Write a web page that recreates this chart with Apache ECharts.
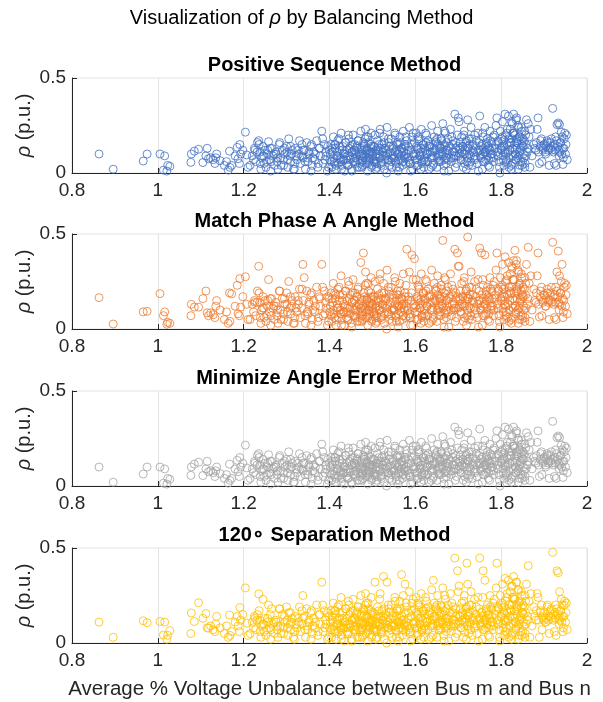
<!DOCTYPE html>
<html>
<head>
<meta charset="utf-8">
<script src="https://cdn.jsdelivr.net/npm/echarts@6/dist/echarts.min.js"></script>
<style>
html,body{margin:0;padding:0;background:#fff;}
#main{width:603px;height:702px;}
</style>
</head>
<body>
<div id="main"></div>
<script>
// 数据
var xTicks = [0.8, 1, 1.2, 1.4, 1.6, 1.8, 2];
var yTicks = [0, 0.5];
var panelTitles = ['Positive Sequence Method', 'Match Phase A Angle Method', 'Minimize Angle Error Method', '120\u2218 Separation Method'];

var unbalance = [
	0.863,0.896,0.966,0.975,1.005,1.016,1.013,1.023,1.028,1.021,1.077,1.078,1.085,1.095,1.105,1.112,1.115,1.118,1.123,1.129,
	1.137,1.135,1.133,1.155,1.160,1.167,1.168,1.164,1.180,1.185,1.187,1.190,1.191,1.193,1.204,1.207,1.145,1.172,1.198,1.210,
	1.215,1.220,1.225,1.228,1.232,1.235,1.238,1.240,1.242,1.245,1.248,1.250,1.252,1.255,1.258,1.260,1.263,1.265,1.268,1.272,
	1.275,1.278,1.280,1.283,1.286,1.290,1.293,1.296,1.300,1.303,1.305,1.308,1.310,1.313,1.316,1.320,1.324,1.328,1.332,1.336,
	1.338,1.341,1.344,1.347,1.350,1.353,1.356,1.360,1.363,1.366,1.370,1.373,1.376,1.379,1.382,1.385,1.388,1.391,1.395,1.399,
	1.401,1.403,1.405,1.407,1.409,1.411,1.413,1.415,1.417,1.419,1.421,1.423,1.425,1.427,1.429,1.431,1.433,1.435,1.437,1.439,
	1.441,1.443,1.445,1.447,1.449,1.451,1.453,1.455,1.457,1.459,1.461,1.463,1.465,1.467,1.469,1.471,1.473,1.475,1.477,1.479,
	1.481,1.483,1.485,1.487,1.489,1.491,1.493,1.495,1.497,1.499,1.482,1.486,1.490,1.494,1.498,1.484,1.488,1.492,1.496,1.500,
	1.502,1.504,1.506,1.508,1.510,1.512,1.514,1.516,1.518,1.520,1.522,1.524,1.526,1.528,1.530,1.532,1.534,1.536,1.538,1.540,
	1.542,1.544,1.546,1.548,1.550,1.552,1.554,1.556,1.558,1.560,1.562,1.564,1.566,1.568,1.570,1.572,1.574,1.576,1.578,1.580,
	1.582,1.584,1.586,1.588,1.590,1.592,1.594,1.596,1.598,1.600,1.602,1.604,1.606,1.608,1.610,1.612,1.614,1.616,1.618,1.620,
	1.622,1.624,1.626,1.628,1.630,1.632,1.634,1.636,1.638,1.640,1.642,1.644,1.646,1.648,1.650,1.652,1.654,1.656,1.658,1.660,
	1.662,1.664,1.666,1.668,1.670,1.672,1.674,1.676,1.678,1.680,1.682,1.684,1.686,1.688,1.690,1.692,1.694,1.696,1.698,1.700,
	1.702,1.704,1.706,1.708,1.710,1.712,1.714,1.716,1.718,1.720,1.722,1.724,1.726,1.728,1.730,1.732,1.734,1.736,1.738,1.740,
	1.742,1.744,1.746,1.748,1.750,1.752,1.754,1.756,1.758,1.760,1.762,1.764,1.766,1.768,1.770,1.772,1.774,1.776,1.778,1.780,
	1.782,1.784,1.786,1.788,1.790,1.792,1.794,1.796,1.798,1.800,1.801,1.803,1.805,1.807,1.809,1.811,1.813,1.815,1.817,1.819,
	1.820,1.821,1.823,1.825,1.826,1.828,1.829,1.831,1.832,1.834,1.835,1.837,1.838,1.840,1.841,1.843,1.844,1.846,1.848,1.850,
	1.822,1.827,1.833,1.839,1.845,1.851,1.853,1.855,1.857,1.859,1.861,1.863,1.865,1.867,1.869,1.824,1.836,1.847,1.856,1.862,
	1.872,1.876,1.881,1.884,1.886,1.889,1.892,1.895,1.898,1.900,1.903,1.905,1.908,1.910,1.912,1.915,1.917,1.920,1.922,1.924,
	1.926,1.928,1.930,1.932,1.933,1.935,1.936,1.938,1.940,1.941,1.942,1.944,1.946,1.948,1.950,1.952,1.954,1.927,1.937,1.945,
	1.223,1.231,1.239,1.247,1.256,1.264,1.271,1.279,1.287,1.295,1.302,1.311,1.319,1.327,1.335,1.343,1.352,1.361,1.374,1.392,
	1.402,1.404,1.406,1.410,1.412,1.416,1.418,1.420,1.424,1.426,1.430,1.432,1.436,1.438,1.440,1.442,1.446,1.448,1.452,1.454,
	1.456,1.458,1.460,1.462,1.464,1.466,1.468,1.470,1.472,1.474,1.476,1.478,1.480,1.484,1.487,1.489,1.492,1.494,1.496,1.499,
	1.501,1.503,1.505,1.507,1.509,1.511,1.513,1.515,1.517,1.519,1.521,1.523,1.525,1.527,1.529,1.531,1.535,1.539,1.543,1.547,
	1.549,1.551,1.553,1.555,1.557,1.559,1.561,1.563,1.565,1.567,1.569,1.571,1.573,1.575,1.577,1.579,1.583,1.587,1.591,1.597,
	1.601,1.603,1.605,1.607,1.609,1.611,1.613,1.615,1.617,1.619,1.621,1.623,1.625,1.627,1.629,1.631,1.635,1.639,1.643,1.647,
	1.649,1.651,1.653,1.655,1.657,1.659,1.661,1.663,1.665,1.667,1.669,1.671,1.673,1.675,1.679,1.683,1.687,1.691,1.695,1.699,
	1.701,1.703,1.705,1.707,1.709,1.711,1.713,1.715,1.717,1.719,1.721,1.723,1.725,1.727,1.729,1.733,1.737,1.741,1.745,1.749,
	1.751,1.753,1.755,1.757,1.759,1.761,1.763,1.765,1.767,1.769,1.771,1.773,1.775,1.777,1.779,1.783,1.787,1.791,1.795,1.799,
	1.802,1.804,1.806,1.808,1.810,1.812,1.814,1.816,1.818,1.827,1.830,1.833,1.836,1.839,1.842,1.845,1.849,1.852,1.854,1.858,
	1.878,1.882,1.887,1.891,1.894,1.897,1.901,1.904,1.907,1.911,1.914,1.918,1.921,1.925,1.929,1.934,1.939,1.943,1.947,1.951,
	1.318,1.357,1.398,1.428,1.452,1.478,1.508,1.533,1.563,1.589,1.613,1.641,1.667,1.693,1.719,1.747,1.773,1.797,1.824,1.848,
	1.414,1.422,1.434,1.444,1.458,1.466,1.474,1.486,1.497,1.509,1.517,1.526,1.537,1.545,1.553,1.561,1.569,1.578,1.585,1.595,
	1.606,1.615,1.624,1.633,1.641,1.651,1.659,1.668,1.677,1.685,1.694,1.703,1.713,1.722,1.731,1.739,1.757,1.766,1.781,1.793,
	1.803,1.809,1.814,1.819,1.823,1.828,1.832,1.837,1.842,1.847,1.852,1.857,1.806,1.812,1.818,1.826,1.834,1.843,1.850,1.855,
	1.412,1.427,1.443,1.461,1.476,1.491,1.507,1.521,1.538,1.556,1.572,1.588,1.604,1.621,1.637,1.655,1.672,1.689,1.724,1.758,
	1.226,1.236,1.244,1.253,1.262,1.276,1.284,1.292,1.301,1.309,1.322,1.330,1.339,1.348,1.358,1.367,1.377,1.384,1.389,1.396
];

var rhoPosSeq = [
	0.10,0.02,0.063,0.10,0.10,0.09,0.015,0.04,0.035,0.01,0.056,0.10,0.115,0.125,0.055,0.09,0.13,0.075,0.08,0.07,
	0.10,0.08,0.05,0.04,0.06,0.115,0.03,0.015,0.09,0.135,0.075,0.05,0.15,0.10,0.215,0.095,0.065,0.04,0.12,0.03,
	0.04,0.09,0.13,0.06,0.16,0.17,0.11,0.02,0.08,0.14,0.05,0.12,0.03,0.10,0.165,0.07,0.01,0.13,0.09,0.04,
	0.11,0.06,0.02,0.15,0.08,0.12,0.04,0.10,0.14,0.03,0.18,0.09,0.06,0.12,0.02,0.13,0.07,0.10,0.05,0.15,
	0.08,0.12,0.02,0.16,0.06,0.10,0.14,0.04,0.11,0.07,0.17,0.03,0.13,0.09,0.22,0.05,0.15,0.11,0.01,0.12,
	0.07,0.15,0.03,0.11,0.19,0.06,0.13,0.02,0.09,0.17,0.05,0.12,0.08,0.21,0.04,0.14,0.10,0.01,0.16,0.07,
	0.12,0.04,0.18,0.09,0.14,0.02,0.11,0.20,0.06,0.15,0.08,0.13,0.03,0.17,0.10,0.05,0.22,0.12,0.07,0.16,
	0.09,0.18,0.05,0.13,0.01,0.16,0.08,0.11,0.21,0.04,0.14,0.07,0.19,0.10,0.03,0.23,0.12,0.06,0.15,0.09,
	0.14,0.06,0.20,0.10,0.03,0.17,0.12,0.08,0.23,0.05,0.15,0.11,0.19,0.02,0.13,0.09,0.24,0.07,0.16,0.04,
	0.11,0.18,0.03,0.14,0.08,0.21,0.06,0.12,0.16,0.01,0.10,0.19,0.07,0.13,0.04,0.22,0.09,0.15,0.05,0.17,
	0.08,0.14,0.24,0.05,0.12,0.19,0.02,0.10,0.16,0.07,0.21,0.13,0.04,0.18,0.09,0.11,0.23,0.06,0.15,0.03,
	0.13,0.06,0.20,0.10,0.17,0.02,0.14,0.08,0.25,0.11,0.05,0.19,0.12,0.16,0.03,0.22,0.09,0.14,0.07,0.18,
	0.10,0.26,0.04,0.15,0.21,0.08,0.12,0.18,0.01,0.14,0.23,0.06,0.11,0.17,0.09,0.31,0.13,0.05,0.20,0.29,
	0.27,0.12,0.07,0.19,0.14,0.03,0.22,0.10,0.16,0.06,0.28,0.13,0.18,0.09,0.24,0.04,0.15,0.11,0.20,0.08,
	0.17,0.05,0.21,0.12,0.30,0.09,0.14,0.02,0.19,0.11,0.24,0.07,0.15,0.18,0.04,0.13,0.22,0.08,0.16,0.10,
	0.06,0.20,0.13,0.25,0.29,0.09,0.16,0.03,0.22,0.12,0.18,0.27,0.07,0.14,0.31,0.10,0.21,0.05,0.30,0.16,
	0.12,0.23,0.04,0.18,0.26,0.09,0.31,0.15,0.20,0.07,0.28,0.13,0.17,0.02,0.24,0.11,0.19,0.06,0.22,0.14,
	0.16,0.21,0.10,0.25,0.13,0.18,0.08,0.22,0.15,0.28,0.11,0.26,0.19,0.03,0.23,0.27,0.29,0.17,0.05,0.13,
	0.09,0.15,0.12,0.23,0.29,0.05,0.17,0.06,0.13,0.15,0.11,0.14,0.16,0.12,0.04,0.13,0.18,0.34,0.11,0.05,
	0.12,0.04,0.255,0.14,0.263,0.09,0.255,0.16,0.215,0.10,0.19,0.045,0.13,0.21,0.10,0.20,0.07,0.19,0.11,0.08,
	0.07,0.11,0.05,0.09,0.12,0.06,0.10,0.08,0.04,0.13,0.07,0.10,0.05,0.12,0.09,0.06,0.11,0.08,0.05,0.09,
	0.10,0.06,0.13,0.08,0.15,0.04,0.11,0.09,0.14,0.06,0.12,0.07,0.10,0.16,0.05,0.09,0.13,0.07,0.11,0.15,
	0.08,0.12,0.05,0.10,0.14,0.07,0.11,0.03,0.09,0.13,0.06,0.10,0.15,0.08,0.12,0.05,0.10,0.07,0.13,0.11,
	0.11,0.07,0.14,0.09,0.12,0.05,0.10,0.15,0.08,0.13,0.06,0.11,0.09,0.16,0.07,0.12,0.10,0.14,0.06,0.09,
	0.13,0.08,0.11,0.05,0.15,0.10,0.07,0.12,0.16,0.09,0.13,0.06,0.11,0.08,0.14,0.10,0.12,0.07,0.15,0.09,
	0.10,0.14,0.07,0.12,0.17,0.09,0.13,0.05,0.11,0.15,0.08,0.12,0.16,0.10,0.06,0.14,0.11,0.08,0.13,0.17,
	0.12,0.08,0.15,0.10,0.13,0.06,0.17,0.11,0.09,0.14,0.07,0.12,0.16,0.10,0.13,0.08,0.15,0.11,0.09,0.14,
	0.09,0.13,0.16,0.07,0.11,0.14,0.10,0.05,0.12,0.17,0.08,0.13,0.10,0.15,0.06,0.12,0.09,0.14,0.11,0.16,
	0.12,0.08,0.15,0.10,0.13,0.06,0.11,0.16,0.09,0.14,0.07,0.12,0.17,0.10,0.13,0.08,0.15,0.11,0.06,0.13,
	0.14,0.09,0.17,0.12,0.20,0.07,0.15,0.11,0.18,0.13,0.21,0.10,0.16,0.08,0.19,0.12,0.15,0.10,0.17,0.09,
	0.13,0.16,0.11,0.14,0.18,0.12,0.15,0.10,0.17,0.13,0.16,0.12,0.14,0.15,0.17,0.12,0.16,0.13,0.18,0.15,
	0.02,0.01,0.03,0.02,0.01,0.04,0.02,0.00,0.03,0.01,0.02,0.04,0.01,0.03,0.02,0.01,0.03,0.00,0.02,0.04,
	0.15,0.18,0.07,0.20,0.12,0.17,0.09,0.19,0.14,0.06,0.21,0.13,0.18,0.08,0.20,0.15,0.11,0.19,0.06,0.21,
	0.19,0.06,0.21,0.15,0.09,0.18,0.13,0.22,0.07,0.19,0.16,0.10,0.20,0.14,0.18,0.07,0.21,0.12,0.19,0.17,
	0.19,0.11,0.23,0.08,0.16,0.21,0.12,0.18,0.09,0.24,0.14,0.20,0.04,0.06,0.03,0.05,0.07,0.04,0.06,0.03,
	0.05,0.07,0.04,0.06,0.03,0.08,0.05,0.04,0.07,0.03,0.06,0.05,0.04,0.07,0.03,0.06,0.05,0.08,0.04,0.06,
	0.12,0.15,0.09,0.06,0.13,0.10,0.16,0.07,0.11,0.14,0.09,0.17,0.12,0.08,0.15,0.10,0.13,0.18,0.07,0.14
];

var rhoPhaseA = [
	0.165,0.026,0.09,0.093,0.186,0.09,0.07,0.035,0.03,0.025,0.07,0.13,0.115,0.115,0.16,0.20,0.085,0.07,0.085,0.075,
	0.15,0.12,0.06,0.05,0.09,0.19,0.04,0.03,0.12,0.23,0.08,0.07,0.265,0.115,0.275,0.13,0.10,0.185,0.17,0.05,
	0.05,0.13,0.15,0.07,0.20,0.33,0.14,0.03,0.10,0.17,0.06,0.15,0.04,0.12,0.26,0.09,0.02,0.16,0.11,0.05,
	0.14,0.07,0.03,0.20,0.10,0.16,0.05,0.13,0.19,0.04,0.25,0.11,0.08,0.15,0.03,0.17,0.09,0.13,0.06,0.21,
	0.34,0.27,0.03,0.20,0.08,0.13,0.18,0.05,0.15,0.09,0.22,0.04,0.17,0.12,0.34,0.07,0.20,0.14,0.02,0.16,
	0.09,0.19,0.04,0.14,0.24,0.08,0.16,0.02,0.11,0.21,0.06,0.15,0.10,0.28,0.05,0.18,0.13,0.02,0.20,0.09,
	0.15,0.05,0.23,0.11,0.18,0.03,0.14,0.26,0.07,0.19,0.10,0.17,0.04,0.22,0.13,0.06,0.35,0.15,0.09,0.40,
	0.11,0.23,0.06,0.16,0.02,0.20,0.10,0.14,0.27,0.05,0.17,0.09,0.24,0.13,0.04,0.30,0.15,0.07,0.19,0.11,
	0.17,0.08,0.25,0.12,0.04,0.21,0.15,0.10,0.29,0.06,0.19,0.13,0.24,0.03,0.16,0.11,0.31,0.09,0.20,0.05,
	0.14,0.22,0.04,0.18,0.10,0.27,0.07,0.15,0.20,0.01,0.12,0.24,0.09,0.16,0.05,0.29,0.11,0.19,0.06,0.42,
	0.10,0.17,0.30,0.06,0.15,0.39,0.02,0.13,0.37,0.09,0.26,0.16,0.05,0.22,0.11,0.14,0.29,0.07,0.19,0.04,
	0.16,0.07,0.25,0.12,0.21,0.03,0.17,0.10,0.31,0.14,0.06,0.24,0.15,0.20,0.04,0.28,0.11,0.17,0.09,0.23,
	0.12,0.466,0.05,0.19,0.26,0.10,0.15,0.22,0.01,0.17,0.29,0.07,0.13,0.21,0.11,0.42,0.16,0.06,0.40,0.33,
	0.33,0.15,0.09,0.24,0.17,0.04,0.27,0.12,0.20,0.07,0.484,0.16,0.22,0.11,0.30,0.05,0.18,0.14,0.25,0.10,
	0.21,0.06,0.26,0.15,0.426,0.11,0.40,0.02,0.23,0.13,0.39,0.08,0.18,0.22,0.05,0.16,0.27,0.10,0.20,0.12,
	0.07,0.25,0.16,0.31,0.40,0.11,0.20,0.04,0.27,0.15,0.22,0.34,0.09,0.17,0.38,0.12,0.26,0.06,0.35,0.20,
	0.15,0.29,0.05,0.22,0.32,0.11,0.36,0.19,0.414,0.09,0.34,0.16,0.21,0.03,0.30,0.14,0.24,0.07,0.27,0.17,
	0.19,0.26,0.12,0.31,0.16,0.22,0.10,0.27,0.18,0.34,0.13,0.43,0.24,0.04,0.28,0.33,0.36,0.20,0.06,0.16,
	0.10,0.21,0.14,0.28,0.40,0.063,0.20,0.07,0.15,0.18,0.12,0.16,0.19,0.14,0.05,0.15,0.22,0.456,0.13,0.06,
	0.14,0.05,0.30,0.17,0.41,0.10,0.28,0.19,0.25,0.12,0.34,0.06,0.15,0.24,0.12,0.23,0.08,0.22,0.13,0.09,
	0.09,0.14,0.06,0.11,0.15,0.07,0.12,0.10,0.05,0.16,0.09,0.12,0.06,0.15,0.11,0.07,0.14,0.10,0.06,0.11,
	0.12,0.07,0.16,0.10,0.19,0.05,0.13,0.11,0.18,0.08,0.15,0.09,0.12,0.20,0.06,0.11,0.16,0.08,0.14,0.19,
	0.10,0.15,0.06,0.12,0.17,0.09,0.13,0.04,0.11,0.16,0.07,0.12,0.19,0.10,0.15,0.06,0.12,0.08,0.16,0.13,
	0.13,0.09,0.17,0.11,0.15,0.06,0.12,0.18,0.10,0.16,0.07,0.13,0.11,0.19,0.08,0.15,0.12,0.17,0.07,0.11,
	0.16,0.10,0.13,0.06,0.18,0.12,0.08,0.15,0.20,0.11,0.16,0.07,0.13,0.10,0.17,0.12,0.15,0.08,0.19,0.11,
	0.12,0.17,0.09,0.15,0.21,0.11,0.16,0.06,0.13,0.19,0.10,0.15,0.20,0.12,0.07,0.17,0.14,0.10,0.16,0.21,
	0.15,0.10,0.18,0.12,0.16,0.07,0.21,0.13,0.11,0.17,0.08,0.15,0.20,0.12,0.16,0.10,0.18,0.13,0.11,0.17,
	0.11,0.16,0.20,0.08,0.13,0.17,0.12,0.06,0.15,0.21,0.10,0.16,0.12,0.18,0.07,0.15,0.11,0.17,0.13,0.20,
	0.15,0.10,0.18,0.12,0.16,0.07,0.13,0.20,0.11,0.17,0.08,0.15,0.21,0.12,0.16,0.10,0.18,0.13,0.07,0.16,
	0.17,0.11,0.21,0.15,0.25,0.09,0.18,0.13,0.22,0.16,0.26,0.12,0.20,0.10,0.23,0.15,0.18,0.12,0.21,0.11,
	0.15,0.19,0.13,0.17,0.22,0.14,0.18,0.12,0.21,0.15,0.19,0.14,0.17,0.18,0.20,0.14,0.19,0.16,0.22,0.18,
	0.03,0.02,0.04,0.02,0.01,0.05,0.03,0.00,0.04,0.02,0.03,0.05,0.01,0.04,0.02,0.01,0.04,0.01,0.03,0.05,
	0.18,0.22,0.09,0.25,0.15,0.21,0.11,0.24,0.17,0.07,0.26,0.16,0.22,0.10,0.25,0.18,0.13,0.23,0.07,0.26,
	0.23,0.07,0.26,0.18,0.11,0.22,0.16,0.27,0.09,0.23,0.19,0.12,0.25,0.17,0.22,0.08,0.26,0.15,0.23,0.21,
	0.23,0.13,0.28,0.10,0.19,0.26,0.15,0.22,0.11,0.29,0.17,0.24,0.05,0.07,0.04,0.06,0.08,0.05,0.07,0.04,
	0.06,0.08,0.05,0.07,0.04,0.10,0.06,0.05,0.08,0.04,0.07,0.06,0.05,0.08,0.04,0.07,0.06,0.10,0.05,0.07,
	0.14,0.19,0.11,0.07,0.16,0.12,0.20,0.08,0.13,0.17,0.11,0.21,0.15,0.09,0.19,0.12,0.16,0.22,0.08,0.17
];

// 最小角误差法与正序法的结果在原图中一致
var rhoMinAngle = rhoPosSeq.slice();

var rhoSep120 = [
	0.11,0.03,0.117,0.107,0.113,0.11,0.042,0.04,0.065,0.02,0.05,0.158,0.113,0.212,0.13,0.155,0.08,0.078,0.09,0.07,
	0.14,0.10,0.06,0.05,0.09,0.147,0.04,0.03,0.11,0.14,0.09,0.06,0.187,0.12,0.29,0.105,0.08,0.06,0.15,0.04,
	0.05,0.11,0.14,0.07,0.15,0.258,0.12,0.03,0.09,0.23,0.06,0.13,0.04,0.11,0.20,0.08,0.02,0.18,0.10,0.05,
	0.12,0.07,0.03,0.18,0.09,0.15,0.05,0.11,0.19,0.04,0.16,0.10,0.07,0.13,0.03,0.14,0.08,0.11,0.06,0.17,
	0.25,0.14,0.03,0.18,0.07,0.11,0.16,0.05,0.13,0.08,0.20,0.04,0.15,0.10,0.32,0.06,0.17,0.12,0.02,0.14,
	0.08,0.17,0.03,0.12,0.21,0.07,0.15,0.02,0.10,0.19,0.06,0.13,0.09,0.24,0.04,0.16,0.11,0.01,0.18,0.08,
	0.13,0.05,0.20,0.10,0.16,0.02,0.12,0.23,0.07,0.17,0.09,0.15,0.03,0.19,0.11,0.06,0.25,0.14,0.08,0.18,
	0.10,0.20,0.05,0.14,0.01,0.18,0.09,0.12,0.24,0.04,0.15,0.08,0.21,0.11,0.03,0.26,0.13,0.07,0.17,0.10,
	0.16,0.07,0.32,0.11,0.03,0.19,0.14,0.09,0.26,0.06,0.17,0.12,0.35,0.02,0.15,0.10,0.32,0.08,0.18,0.05,
	0.13,0.20,0.03,0.16,0.09,0.24,0.07,0.14,0.18,0.01,0.11,0.22,0.08,0.36,0.04,0.25,0.10,0.31,0.06,0.19,
	0.09,0.16,0.27,0.05,0.14,0.21,0.02,0.11,0.18,0.08,0.24,0.15,0.04,0.20,0.10,0.13,0.26,0.07,0.17,0.03,
	0.15,0.07,0.22,0.11,0.19,0.02,0.16,0.09,0.28,0.12,0.33,0.21,0.14,0.18,0.03,0.25,0.10,0.16,0.08,0.20,
	0.11,0.29,0.04,0.17,0.23,0.09,0.13,0.20,0.01,0.16,0.26,0.06,0.12,0.19,0.10,0.447,0.14,0.05,0.38,0.27,
	0.30,0.14,0.08,0.21,0.16,0.03,0.25,0.11,0.18,0.42,0.31,0.15,0.20,0.10,0.27,0.04,0.17,0.12,0.23,0.09,
	0.19,0.05,0.24,0.13,0.447,0.10,0.16,0.02,0.38,0.12,0.33,0.08,0.17,0.20,0.04,0.15,0.25,0.09,0.18,0.11,
	0.07,0.23,0.15,0.29,0.42,0.10,0.18,0.03,0.25,0.14,0.20,0.31,0.08,0.16,0.34,0.11,0.24,0.05,0.33,0.18,
	0.14,0.27,0.04,0.20,0.30,0.10,0.35,0.17,0.23,0.08,0.32,0.15,0.19,0.02,0.28,0.12,0.22,0.06,0.25,0.16,
	0.17,0.24,0.11,0.28,0.14,0.20,0.09,0.25,0.16,0.31,0.12,0.407,0.22,0.03,0.26,0.30,0.32,0.19,0.05,0.14,
	0.09,0.19,0.12,0.26,0.24,0.03,0.17,0.07,0.14,0.12,0.11,0.13,0.20,0.12,0.05,0.14,0.18,0.477,0.12,0.06,
	0.13,0.04,0.38,0.15,0.37,0.10,0.27,0.17,0.23,0.11,0.20,0.06,0.14,0.22,0.11,0.21,0.07,0.20,0.12,0.08,
	0.08,0.12,0.06,0.10,0.13,0.07,0.11,0.09,0.05,0.14,0.08,0.11,0.06,0.13,0.10,0.07,0.12,0.09,0.06,0.10,
	0.11,0.07,0.14,0.09,0.17,0.05,0.12,0.10,0.16,0.07,0.13,0.08,0.11,0.18,0.06,0.10,0.15,0.08,0.12,0.17,
	0.09,0.13,0.06,0.11,0.16,0.08,0.12,0.03,0.10,0.15,0.07,0.11,0.17,0.09,0.14,0.06,0.11,0.08,0.15,0.12,
	0.12,0.08,0.15,0.10,0.13,0.06,0.11,0.17,0.09,0.14,0.07,0.12,0.10,0.18,0.08,0.13,0.11,0.16,0.07,0.10,
	0.14,0.09,0.12,0.06,0.17,0.11,0.08,0.13,0.18,0.10,0.14,0.07,0.12,0.09,0.16,0.11,0.13,0.08,0.17,0.10,
	0.11,0.16,0.08,0.13,0.19,0.10,0.14,0.06,0.12,0.17,0.09,0.13,0.18,0.11,0.07,0.15,0.12,0.09,0.14,0.19,
	0.13,0.09,0.17,0.11,0.14,0.07,0.19,0.12,0.10,0.15,0.08,0.13,0.18,0.11,0.14,0.09,0.16,0.12,0.10,0.15,
	0.10,0.14,0.18,0.08,0.12,0.15,0.11,0.06,0.13,0.19,0.09,0.14,0.11,0.16,0.07,0.13,0.10,0.15,0.12,0.18,
	0.13,0.09,0.16,0.11,0.14,0.07,0.12,0.18,0.10,0.15,0.08,0.13,0.19,0.11,0.14,0.09,0.17,0.12,0.07,0.14,
	0.15,0.10,0.19,0.13,0.22,0.08,0.16,0.12,0.20,0.14,0.23,0.11,0.18,0.09,0.21,0.13,0.16,0.11,0.19,0.10,
	0.14,0.17,0.12,0.16,0.20,0.13,0.16,0.11,0.19,0.14,0.17,0.13,0.15,0.16,0.18,0.13,0.17,0.14,0.20,0.16,
	0.02,0.02,0.03,0.02,0.01,0.04,0.02,0.00,0.03,0.01,0.02,0.04,0.01,0.03,0.02,0.01,0.03,0.01,0.02,0.04,
	0.17,0.20,0.08,0.22,0.13,0.19,0.10,0.21,0.16,0.07,0.23,0.14,0.20,0.09,0.22,0.17,0.12,0.21,0.07,0.23,
	0.21,0.07,0.24,0.17,0.10,0.20,0.15,0.25,0.08,0.21,0.18,0.11,0.22,0.16,0.20,0.08,0.24,0.13,0.21,0.19,
	0.21,0.12,0.26,0.09,0.17,0.24,0.13,0.20,0.10,0.27,0.15,0.22,0.04,0.06,0.03,0.05,0.07,0.04,0.06,0.03,
	0.06,0.08,0.05,0.07,0.03,0.09,0.06,0.05,0.08,0.03,0.07,0.06,0.05,0.08,0.03,0.07,0.06,0.09,0.05,0.07,
	0.13,0.17,0.10,0.07,0.15,0.11,0.18,0.08,0.12,0.16,0.10,0.19,0.13,0.09,0.17,0.11,0.15,0.20,0.08,0.16
];

var colors = ['#4472C4', '#ED7D31', '#A5A5A5', '#FFC000'];
var rhoList = [rhoPosSeq, rhoPhaseA, rhoMinAngle, rhoSep120];

var font = '"Liberation Sans", Arial, Helvetica, sans-serif';
var textColor = '#262626';
var gridTops = [78, 234, 391, 548];
var plotLeft = 72, plotWidth = 515, plotHeight = 95;

var grids = [], xAxes = [], yAxes = [], series = [];
var titles = [{
	text: 'Visualization of {i|\u03c1} by Balancing Method',
	left: 'center',
	top: 3,
	textStyle: {
		fontFamily: font, fontSize: 20, fontWeight: 'normal', color: '#000',
		rich: { i: { fontFamily: font, fontSize: 20, fontStyle: 'italic', color: '#000' } }
	}
}];

for (var k = 0; k < 4; k++) {
	grids.push({
		left: plotLeft, top: gridTops[k], width: plotWidth, height: plotHeight,
		show: true, borderColor: '#e3e3e3', borderWidth: 1, backgroundColor: '#fff'
	});
	titles.push({
		text: panelTitles[k],
		left: plotLeft + plotWidth / 2,
		textAlign: 'center',
		top: gridTops[k] - 28,
		textStyle: { fontFamily: font, fontSize: 20, fontWeight: 'bold', color: '#000' }
	});
	var xa = {
		type: 'value', gridIndex: k,
		min: xTicks[0], max: xTicks[xTicks.length - 1], interval: 0.2,
		axisLine: { show: true, lineStyle: { color: textColor, width: 1 } },
		axisTick: { show: true, inside: true, length: 5, lineStyle: { color: textColor } },
		axisLabel: { fontFamily: font, fontSize: 19, color: textColor, margin: 8 },
		splitLine: { show: true, lineStyle: { color: '#e3e3e3', width: 1 } }
	};
	if (k === 3) {
		xa.name = 'Average % Voltage Unbalance between Bus m and Bus n';
		xa.nameLocation = 'middle';
		xa.nameGap = 36;
		xa.nameMoveOverlap = false;
		xa.nameTextStyle = { fontFamily: font, fontSize: 20.5, color: textColor };
	}
	xAxes.push(xa);
	yAxes.push({
		type: 'value', gridIndex: k,
		min: yTicks[0], max: yTicks[1], interval: 0.5,
		name: '{i|\u03c1} (p.u.)',
		nameLocation: 'middle',
		nameGap: 38,
		nameRotate: 90,
		nameMoveOverlap: false,
		nameTextStyle: {
			fontFamily: font, fontSize: 20, color: textColor,
			rich: { i: { fontFamily: font, fontSize: 20, fontStyle: 'italic', color: textColor } }
		},
		axisLine: { show: true, lineStyle: { color: textColor, width: 1 } },
		axisTick: { show: true, inside: true, length: 5, lineStyle: { color: textColor } },
		axisLabel: { fontFamily: font, fontSize: 19, color: textColor, margin: 6 },
		splitLine: { show: false }
	});
	var pts = [];
	for (var i = 0; i < unbalance.length; i++) {
		pts.push([unbalance[i], rhoList[k][i]]);
	}
	series.push({
		type: 'scatter',
		xAxisIndex: k, yAxisIndex: k,
		symbol: 'circle',
		symbolSize: 8,
		clip: false,
		itemStyle: { color: 'rgba(0,0,0,0)', borderColor: colors[k], borderWidth: 1 },
		emphasis: { disabled: true },
		data: pts
	});
}

var chart = echarts.init(document.getElementById('main'), null, { renderer: 'canvas' });
var option = {
	animation: false,
	backgroundColor: '#fff',
	title: titles,
	grid: grids,
	xAxis: xAxes,
	yAxis: yAxes,
	series: series
};
chart.setOption(option);
</script>
</body>
</html>
